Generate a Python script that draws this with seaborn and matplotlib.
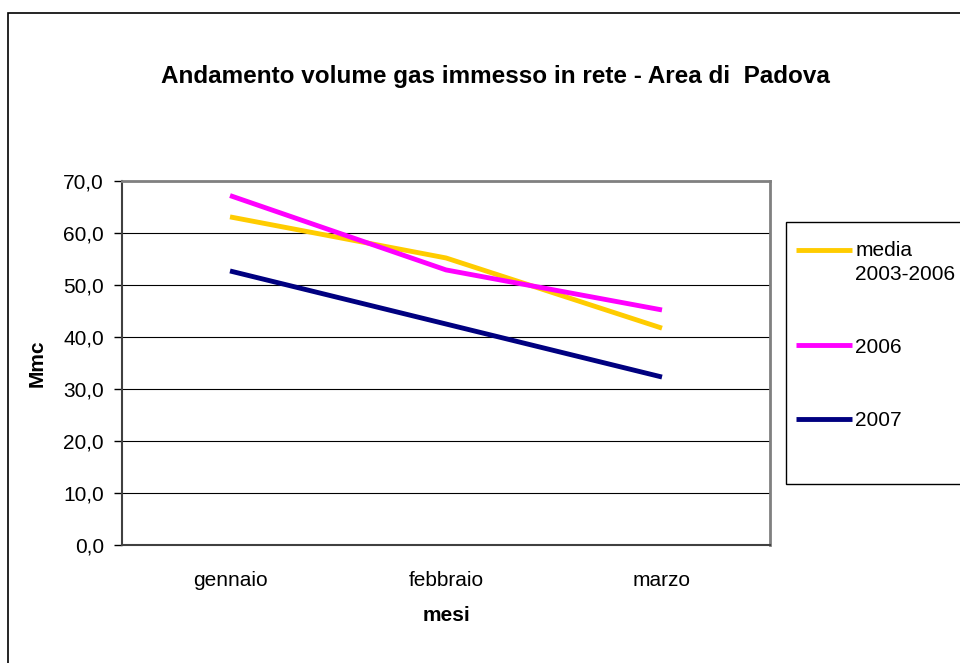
import matplotlib
matplotlib.use("Agg")
import matplotlib.pyplot as plt
import seaborn as sns
import pandas as pd
from matplotlib.patches import Rectangle
from matplotlib.ticker import FixedLocator, FuncFormatter

months = ["gennaio", "febbraio", "marzo"]
media_2003_2006 = [63.1, 55.2, 41.7]
y2006 = [67.2, 52.9, 45.2]
y2007 = [52.7, 42.5, 32.3]
series_names = ["media\n2003-2006", "2006", "2007"]
colors = ["#FFCC00", "#FF00FF", "#000080"]

rows = []
for name, vals in zip(series_names, [media_2003_2006, y2006, y2007]):
    for i, (m, v) in enumerate(zip(months, vals)):
        rows.append({"mese": m, "x": i, "Mmc": v, "serie": name})
df = pd.DataFrame(rows)

sns.set_style("white")
plt.rcParams["font.family"] = ["Liberation Sans", "DejaVu Sans"]
plt.rcParams["text.color"] = "black"
plt.rcParams["axes.labelcolor"] = "black"
plt.rcParams["xtick.color"] = "black"
plt.rcParams["ytick.color"] = "black"

W, H = 960, 663
fig = plt.figure(figsize=(W / 100, H / 100), dpi=100)
fig.patch.set_facecolor("white")

# outer chart border
fig.add_artist(Rectangle((8 / W, -0.1), 1.2, (H - 13) / H + 0.1, transform=fig.transFigure,
                         fill=False, edgecolor="black", linewidth=1.2))

ax = fig.add_axes([122 / W, (H - 545) / H, (770 - 122) / W, (545 - 181) / H])
sns.lineplot(data=df, x="x", y="Mmc", hue="serie", hue_order=series_names,
             palette=colors, linewidth=3.5, ax=ax, legend=True, sort=False,
             solid_capstyle="butt")

ax.set_xlim(-0.5, 2.5)
ax.set_ylim(0, 70)
ax.set_yticks(range(0, 71, 10))
ax.yaxis.set_major_formatter(FuncFormatter(lambda v, p: f"{v:.1f}".replace(".", ",")))
ax.grid(axis="y", color="black", linewidth=0.8)
ax.set_axisbelow(True)

ax.set_xticks(range(len(months)))
ax.set_xticklabels(months)
ax.xaxis.set_minor_locator(FixedLocator([-0.5, 0.5, 1.5, 2.5]))
ax.tick_params(axis="x", which="major", length=0, pad=19, labelsize=15)
ax.tick_params(axis="x", which="minor", length=6, width=1, color="black", direction="out")
ax.tick_params(axis="y", which="major", length=6, width=1, color="black", direction="out",
               labelsize=15, pad=7, left=True)

for s in ["top", "right"]:
    ax.spines[s].set_color("#808080")
    ax.spines[s].set_linewidth(2)
for s in ["left", "bottom"]:
    ax.spines[s].set_color("#404040")
    ax.spines[s].set_linewidth(1.5)

ax.set_xlabel("mesi", fontsize=15, fontweight="bold", labelpad=11)
ax.set_ylabel("Mmc", fontsize=15, fontweight="bold", labelpad=12)

fig.text(495 / W, (H - 77) / H, "Andamento volume gas immesso in rete - Area di  Padova",
         ha="center", va="center", fontsize=17.5, fontweight="bold")

# legend box
fig.add_artist(Rectangle((786 / W, (H - 484) / H), 0.5, (484 - 222) / H, transform=fig.transFigure,
                         fill=True, facecolor="white", edgecolor="black", linewidth=1.0))
handles, labels = ax.get_legend_handles_labels()
ax.legend_.remove()
leg = fig.legend(handles, labels, loc="upper left", bbox_to_anchor=(796 / W, (H - 241) / H),
                 frameon=False, fontsize=15, handlelength=2.7, handletextpad=0.15,
                 labelspacing=2.6, borderaxespad=0, borderpad=0)
for t in leg.get_texts():
    t.set_linespacing(1.3)
for i, line in enumerate(leg.get_lines()):
    line.set_linewidth(3.5)
    line.set_solid_capstyle("butt")
leg.get_lines()[0].set_ydata(leg.get_lines()[0].get_ydata() + 9)

fig.savefig("out.png", dpi=100)
